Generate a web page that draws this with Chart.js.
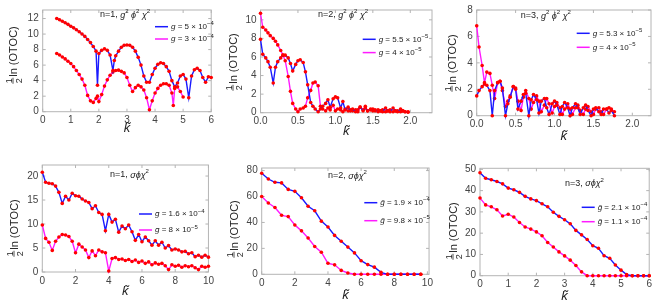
<!DOCTYPE html>
<html>
<head>
<meta charset="utf-8">
<script src="https://cdn.jsdelivr.net/npm/chart.js@4.4.1/dist/chart.umd.min.js"></script>
<style>
  body { margin: 0; background: #fff; }
  #wrap { position: relative; width: 655px; height: 306px; overflow: hidden; }
  canvas { position: absolute; }
</style>
</head>
<body>
<div id="wrap"></div>
<script>
// ---- data ----

// panel 1: n=1, g^2 phi^2 chi^2
const k1Blue = [0.5,0.6,0.7,0.8,0.9,1.0,1.1,1.2,1.3,1.4,1.5,1.6,1.7,1.8,1.9,1.95,2.0,2.1,2.2,2.3,2.4,2.5,2.55,
  2.6,2.7,2.8,2.9,3.0,3.1,3.2,3.3,3.4,3.5,3.6,3.7,3.8,3.9,4.0,4.1,4.2,4.3,4.4,4.5,4.6,4.7,4.8,4.9,5.0,5.1,5.2,5.3,5.4,5.5,5.6,5.7,5.8,5.9,6.0];
const ln1Blue = [12.0,11.85,11.65,11.45,11.25,11.0,10.8,10.55,10.3,10.0,9.7,9.3,8.9,8.4,7.8,3.4,7.5,7.9,8.1,7.9,7.3,5.3,6.6,
  7.2,7.8,8.3,8.55,8.6,8.55,8.3,7.8,7.0,6.0,4.6,3.8,3.8,4.8,5.6,6.1,6.3,6.2,5.8,5.2,4.0,3.2,3.7,4.6,4.8,4.2,1.8,4.6,5.4,5.6,5.3,4.4,3.8,4.5,4.4];
const k1Mag = [0.5,0.6,0.7,0.8,0.9,1.0,1.1,1.2,1.3,1.4,1.5,1.6,1.7,1.8,1.9,1.95,2.0,2.1,2.2,2.3,2.4,2.5,2.6,2.7,2.8,2.9,
  3.0,3.1,3.2,3.3,3.4,3.5,3.6,3.7,3.8,3.9,4.0,4.1,4.2,4.3,4.4,4.5,4.6,4.65,4.7,4.8,4.9,5.0];
const ln1Mag = [7.5,7.3,7.05,6.8,6.5,6.2,5.8,5.3,4.8,4.2,3.4,2.1,1.4,1.2,1.7,2.0,1.3,2.2,3.3,4.1,4.7,5.1,5.3,5.35,5.2,5.0,
  4.4,3.4,2.6,3.1,3.4,3.2,2.8,1.8,0.25,1.4,2.4,3.0,3.4,3.6,3.6,3.4,2.4,0.8,3.0,3.2,2.6,1.9];

// panel 2: n=2
const k2 = [0,0.03,0.07,0.1,0.13,0.17,0.2,0.23,0.27,0.3,0.33,0.37,0.4,0.43,0.47,0.5,0.53,0.57,0.6,0.63,
  0.67,0.7,0.73,0.77,0.8,0.83,0.87,0.9,0.93,0.97,1.0,1.03,1.07,1.1,1.13,1.17,1.2,1.23,1.27,1.3,
  1.33,1.37,1.4,1.43,1.47,1.5,1.53,1.57,1.6,1.63,1.67,1.7,1.73,1.77,1.8,1.83,1.87,1.9,1.93,1.97];
const ln2Blue = [7.9,6.3,5.9,5.5,4.9,3.2,4.9,5.5,5.9,6.2,6.2,5.9,5.3,4.5,5.2,5.6,5.7,5.4,4.4,3.0,
  1.1,0.7,0.4,0.1,0.4,0.7,1.0,1.4,0.6,1.5,1.7,1.6,0.5,1.2,0.3,0.6,0.2,0.4,0.1,0.3,
  0.6,0.2,0.5,0.2,0.4,0.2,0.3,0.1,0.2,0.1,0.5,0.2,0.1,0.5,0.2,0.1,0.4,0.2,0.1,0.05];
const ln2Mag = [10.7,9.2,8.9,8.6,8.3,8.0,7.7,7.3,6.7,6.2,5.6,3.9,2.3,1.0,0.4,0.1,0.4,0.5,0.7,1.6,
  2.4,3.2,3.3,2.9,0.7,0.4,0.2,0.5,0.3,0.8,0.2,0.4,0.3,0.1,0.4,0.2,0.3,0.2,0.3,0.1,
  0.6,0.3,0.7,0.2,0.3,0.4,0.2,0.3,0.2,0.3,0.1,0.2,0.3,0.1,0.2,0.2,0.1,0.2,0.1,0.1];

// panel 3: n=3
const k3 = k2.slice(0, 54);
const ln3Blue = [1.5,1.9,2.2,2.4,2.3,1.9,0.0,1.9,2.5,2.6,2.1,0.0,0.9,1.4,2.2,2.0,0.5,1.1,1.6,1.7,
  0.0,1.2,1.6,1.2,0.2,1.1,1.3,0.6,0.1,0.9,1.1,0.8,0.1,0.7,1.0,0.6,0.0,0.6,0.9,0.6,
  0.1,0.6,0.8,0.4,0.0,0.5,0.6,0.3,0.1,0.5,0.5,0.2,0.4,0.0];
const ln3Mag = [6.8,5.2,3.8,2.5,3.3,3.2,2.3,1.3,2.5,2.6,1.9,0.7,1.1,1.5,2.2,2.1,1.1,0.4,1.4,1.9,
  1.3,0.5,1.0,1.5,1.1,0.3,0.8,1.3,0.9,0.2,0.7,1.0,0.6,0.1,0.5,0.9,0.5,0.1,0.6,0.8,
  0.4,0.1,0.5,0.7,0.3,0.1,0.5,0.6,0.3,0.1,0.5,0.6,0.5,0.3];

// panel 4: n=1, sigma phi chi^2
const k4 = [0,0.2,0.4,0.6,0.8,1,1.2,1.4,1.6,1.8,2,2.2,2.4,2.6,2.8,3,3.2,3.4,3.6,3.8,4,4.2,4.4,4.6,4.8,5,
  5.2,5.4,5.6,5.8,6,6.2,6.4,6.6,6.8,7,7.2,7.4,7.6,7.8,8,8.2,8.4,8.6,8.8,9,9.2,9.4,9.6,9.8,10];
const ln4Blue = [20.8,18.7,18.5,18.4,17.9,16.6,14.3,15.8,15.0,16.4,15.9,15.8,15.2,14.8,14.5,13.2,13.8,12.4,12.0,8.6,
  12.0,10.4,11.0,8.3,9.6,9.0,9.8,8.4,6.6,7.8,6.3,7.3,6.5,5.6,6.5,5.6,6.2,5.0,5.5,4.6,
  4.8,4.6,4.2,4.3,3.8,4.0,3.2,3.5,3.1,3.5,3.1];
const ln4Mag = [9.8,7.0,6.2,4.5,6.4,7.3,7.8,7.7,7.4,6.4,4.0,5.8,5.2,4.6,3.0,4.4,3.4,4.6,4.2,4.0,
  0.2,2.8,3.0,2.6,2.7,2.4,2.6,2.2,2.5,2.0,2.3,1.8,2.1,1.5,1.9,1.6,1.8,1.3,0.5,1.5,
  1.2,1.4,1.0,1.3,1.1,1.3,0.9,0.5,1.2,1.0,1.2];

// panel 5: n=2
const k5 = [0,0.4,0.8,1.2,1.6,2,2.4,2.8,3.2,3.6,4,4.4,4.8,5.2,5.6,6,6.4,6.8,7.2,7.6,8,8.4,8.8,9.2,9.6];
const ln5Blue = [78,73.5,71,70.5,65.5,64,59,52.5,49,41,36.5,30,25.5,21,16.5,10.5,7.5,5.5,1.5,0,0,0,0,0,0];
const ln5Mag = [60,55,51.5,45.5,44.5,38,33.5,28,21.5,17,8.5,7.3,3,1,0,0,0,0,0,0,0,0,0,0,0];

// panel 6: n=3
const k6 = [0,0.2,0.4,0.6,0.8,1,1.2,1.4,1.6,1.8,2,2.2,2.4,2.6,2.8,3,3.2,3.4,3.6,3.8,4,4.2,4.4,4.6,4.8,5,5.2,5.4,5.6,5.8,6];
const ln6Blue = [48.4,45.8,45.1,44.3,43.2,41.2,40.4,39.2,37.3,36.1,35.3,33.8,32.4,29.8,27.9,26.3,24.4,21.3,19.2,17.0,
  14.1,12.9,9.4,8.2,5.0,2.6,0.5,0,0,0,0];
const ln6Mag = [36.5,33.3,32.4,31.0,28.1,28.9,27.6,25.0,22.9,21.9,20.6,18.8,15.6,13.5,11.2,9.3,7.3,4.8,1.8,0,
  0,0,0,0,0,0,0,0,0,0,0];

// tick labels
const xTicks1 = ['0','1','2','3','4','5','6'];
const yTicks1 = ['0','2','4','6','8','10','12'];
const xTicks2 = ['0.0','0.5','1.0','1.5','2.0'];
const yTicks2 = ['0','2','4','6','8','10'];
const xTicks3 = ['0.0','0.5','1.0','1.5','2.0'];
const yTicks3 = ['0','2','4','6','8'];
const xTicks4 = ['0','2','4','6','8','10'];
const yTicks4 = ['0','5','10','15','20'];
const xTicks5 = ['0','2','4','6','8','10'];
const yTicks5 = ['0','20','40','60','80'];
const xTicks6 = ['0','1','2','3','4','5','6'];
const yTicks6 = ['0','10','20','30','40','50'];

// legends and panel notes
const legend1 = ['g = 5 × 10⁻⁴', 'g = 3 × 10⁻⁴'];
const legend2 = ['g = 5.5 × 10⁻⁵', 'g = 4 × 10⁻⁵'];
const legend3 = ['g = 5.3 × 10⁻⁵', 'g = 4 × 10⁻⁵'];
const legend4 = ['g̃ = 1.6 × 10⁻⁴', 'g̃ = 8 × 10⁻⁵'];
const legend5 = ['g̃ = 1.9 × 10⁻⁴', 'g̃ = 9.8 × 10⁻⁵'];
const legend6 = ['g̃ = 2.1 × 10⁻⁴', 'g̃ = 1.1 × 10⁻⁴'];
const notes = ['n=1, g² ϕ² χ²', 'n=2, g² ϕ² χ²', 'n=3, g² ϕ² χ²', 'n=1, σϕχ²', 'n=2, σϕχ²', 'n=3, σϕχ²'];

const FONT = '"Liberation Sans", Arial, sans-serif';
const BLUE = '#1a1aff';
const MAGENTA = '#ff1aff';
const SUP = { '⁻': '−', '⁰': '0', '¹': '1', '²': '2', '³': '3', '⁴': '4', '⁵': '5', '⁶': '6', '⁷': '7', '⁸': '8', '⁹': '9' };

// layout of each panel (absolute px in the page)
const panels = [
  { cell: [0, 0, 217, 150], area: [42.7, 5, 214.7, 111.7], x: [0, 6], y: [0, 13.1], xt: xTicks1, yt: yTicks1,
    series: [[k1Blue, ln1Blue], [k1Mag, ln1Mag]], legend: legend1, note: notes[0],
    notePos: [100, 15], legPos: [155, 26.7, 12.3], yTitle: [13, 55], xTitleY: 128.5 },
  { cell: [217, 0, 436, 150], area: [260.5, 5, 433, 112.7], x: [0, 2.29], y: [0, 11.06], xt: xTicks2, yt: yTicks2,
    series: [[k2, ln2Blue], [k2, ln2Mag]], legend: legend2, note: notes[1],
    notePos: [318, 15], legPos: [362.7, 39.3, 13.3], yTitle: [233, 62], xTitleY: 131.7 },
  { cell: [436, 0, 655, 150], area: [476.7, 5, 654, 115.7], x: [0, 2.24], y: [0, 8], xt: xTicks3, yt: yTicks3,
    series: [[k3, ln3Blue], [k3, ln3Mag]], legend: legend3, note: notes[2],
    notePos: [520.7, 16], legPos: [576.7, 33.3, 14], yTitle: [452, 63], xTitleY: 136.7 },
  { cell: [0, 150, 217, 306], area: [42.3, 165, 211, 272], x: [0, 10], y: [0, 22.3], xt: xTicks4, yt: yTicks4,
    series: [[k4, ln4Blue], [k4, ln4Mag]], legend: legend4, note: notes[3],
    notePos: [110, 175], legPos: [139, 214, 16], yTitle: [14, 228], xTitleY: 291.7 },
  { cell: [217, 150, 436, 306], area: [261.7, 168, 431.7, 274.3], x: [0, 10.1], y: [0, 82], xt: xTicks5, yt: yTicks5,
    series: [[k5, ln5Blue], [k5, ln5Mag]], legend: legend5, note: notes[4],
    notePos: [328, 176], legPos: [364.3, 202.7, 18], yTitle: [234, 229], xTitleY: 295 },
  { cell: [436, 150, 655, 306], area: [480, 168.3, 652, 275.7], x: [0, 6], y: [0, 50.5], xt: xTicks6, yt: yTicks6,
    series: [[k6, ln6Blue], [k6, ln6Mag]], legend: legend6, note: notes[5],
    notePos: [565, 183.3], legPos: [581.7, 207.3, 14.4], yTitle: [453, 231], xTitleY: 296.7 }
];

// draws text char by char: letters in `ital` italic, superscript chars small and raised
function drawMixed(ctx, str, x, y, size, ital) {
  const chars = Array.from(str);
  let cx = x;
  for (let i = 0; i < chars.length; i++) {
    let ch = chars[i];
    if (chars[i + 1] === '\u0303') { ch += chars[i + 1]; i++; }
    let sz = size, dy = 0;
    if (SUP[ch]) { ch = SUP[ch]; sz = Math.round(size * 0.72); dy = -size * 0.38; }
    ctx.font = (ital.includes(ch[0]) ? 'italic ' : '') + sz + 'px ' + FONT;
    ctx.fillText(ch, cx, y + dy);
    cx += ctx.measureText(ch).width;
  }
}

function makeDecor(p) {
  const ox = p.cell[0], oy = p.cell[1];
  return {
    id: 'decor',
    beforeDatasetsDraw(chart) {
      const { ctx, chartArea: a, scales } = chart;
      ctx.save();
      ctx.strokeStyle = '#b4b4b4';
      ctx.lineWidth = 1;
      ctx.strokeRect(a.left, a.top, a.right - a.left, a.bottom - a.top);
      ctx.beginPath();
      scales.x.ticks.forEach(t => {
        const px = scales.x.getPixelForValue(t.value);
        ctx.moveTo(px, a.bottom); ctx.lineTo(px, a.bottom - 3);
        ctx.moveTo(px, a.top); ctx.lineTo(px, a.top + 3);
      });
      scales.y.ticks.forEach(t => {
        const py = scales.y.getPixelForValue(t.value);
        ctx.moveTo(a.left, py); ctx.lineTo(a.left + 3, py);
        ctx.moveTo(a.right, py); ctx.lineTo(a.right - 3, py);
      });
      ctx.stroke();
      ctx.restore();
    },
    afterDraw(chart) {
      const { ctx, chartArea: a } = chart;
      ctx.save();
      ctx.fillStyle = '#222';
      ctx.textBaseline = 'middle';

      // note in the corner
      drawMixed(ctx, p.note, p.notePos[0] - ox, p.notePos[1] - oy, 9, 'gϕχσ');

      // legend
      const [lx, ly, ld] = p.legPos;
      chart.data.datasets.forEach((ds, i) => {
        const yy = ly + i * ld - oy;
        ctx.strokeStyle = ds.borderColor;
        ctx.lineWidth = 1.5;
        ctx.beginPath();
        ctx.moveTo(lx - ox, yy); ctx.lineTo(lx - ox + 13, yy);
        ctx.stroke();
        drawMixed(ctx, ds.label, lx - ox + 16, yy, 8, 'g');
      });

      // x title
      ctx.textAlign = 'center';
      ctx.font = 'italic 13px ' + FONT;
      ctx.fillText('k̃', (a.left + a.right) / 2, p.xTitleY - oy);

      // y title: 1/2 ln (OTOC), rotated
      ctx.translate(p.yTitle[0] - ox, p.yTitle[1] - oy);
      ctx.rotate(-Math.PI / 2);
      ctx.font = '11px ' + FONT;
      const tw = ctx.measureText('ln (OTOC)').width;
      const fw = 6;
      const x0 = -(fw + 1 + tw) / 2;
      ctx.font = '9px ' + FONT;
      ctx.textBaseline = 'alphabetic';
      ctx.fillText('1', x0 + fw / 2, -1.5);
      ctx.fillText('2', x0 + fw / 2, 8.5);
      ctx.fillRect(x0, -0.4, fw, 0.8);
      ctx.font = '11px ' + FONT;
      ctx.textAlign = 'left';
      ctx.textBaseline = 'middle';
      ctx.fillText('ln (OTOC)', x0 + fw + 1, 0.5);
      ctx.restore();
    }
  };
}

const wrap = document.getElementById('wrap');

panels.forEach(p => {
  const [cl, ct, cr, cb] = p.cell;
  const [al, at, ar, ab] = p.area;
  const cv = document.createElement('canvas');
  cv.width = cr - cl;
  cv.height = cb - ct;
  cv.style.left = cl + 'px';
  cv.style.top = ct + 'px';
  wrap.appendChild(cv);

  const colors = [BLUE, MAGENTA];
  new Chart(cv.getContext('2d'), {
    type: 'line',
    data: {
      datasets: p.series.map((s, i) => ({
        label: p.legend[i],
        data: s[0].map((k, j) => ({ x: k, y: s[1][j] })),
        borderColor: colors[i],
        borderWidth: 1.4,
        pointRadius: 1.8,
        pointBackgroundColor: '#ff0000',
        pointBorderWidth: 0,
        tension: 0,
        clip: 5
      }))
    },
    options: {
      responsive: false,
      animation: false,
      events: [],
      layout: { padding: { left: 0, top: at - ct, right: cr - ar, bottom: 0 } },
      plugins: { legend: { display: false }, tooltip: { enabled: false } },
      scales: {
        x: {
          type: 'linear', min: p.x[0], max: p.x[1],
          grid: { display: false, drawTicks: false },
          border: { display: false },
          ticks: {
            font: { size: 10, family: FONT }, color: '#444', padding: 3,
            maxRotation: 0, autoSkip: false,
            callback: (v, i) => p.xt[i]
          },
          afterBuildTicks: s => { s.ticks = p.xt.map(t => ({ value: Number(t) })); },
          afterFit: s => { s.height = cb - ab; }
        },
        y: {
          min: p.y[0], max: p.y[1],
          grid: { display: false, drawTicks: false },
          border: { display: false },
          ticks: {
            font: { size: 10, family: FONT }, color: '#444', padding: 4,
            callback: (v, i) => p.yt[i]
          },
          afterBuildTicks: s => { s.ticks = p.yt.map(t => ({ value: Number(t) })); },
          afterFit: s => { s.width = al - cl; }
        }
      }
    },
    plugins: [makeDecor(p)]
  });
});
</script>
</body>
</html>
